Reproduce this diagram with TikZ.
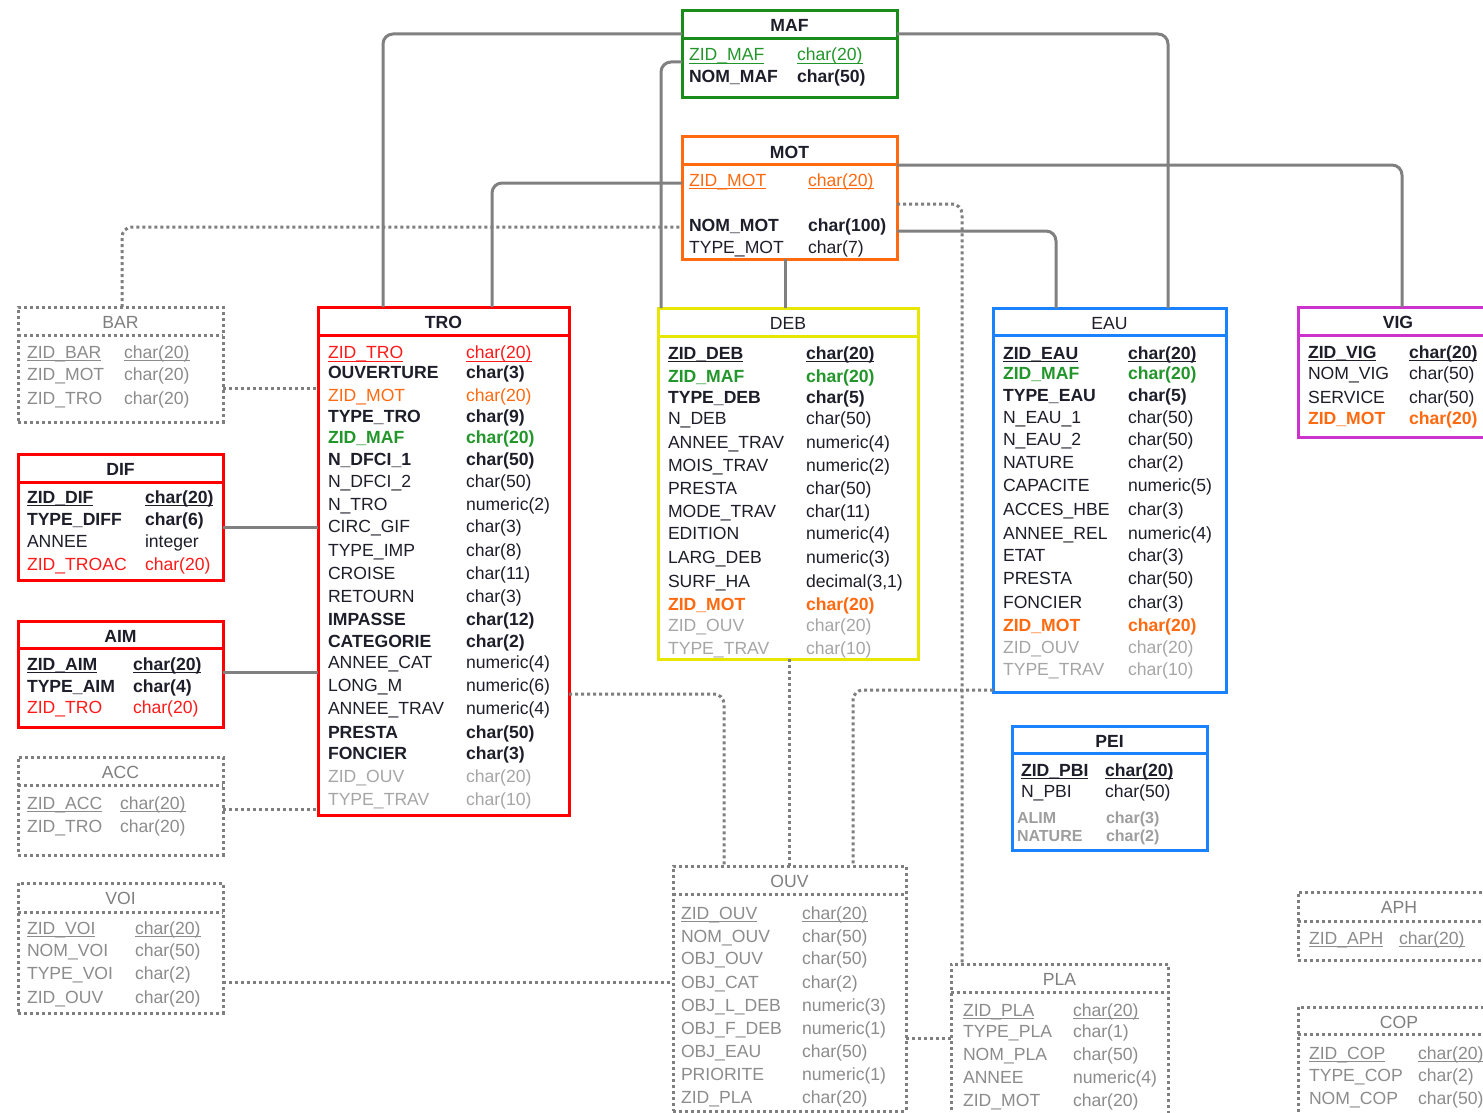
\documentclass[tikz,border=0pt]{standalone}
\usepackage{fontspec}
\setmainfont{Liberation Sans}
\usetikzlibrary{calc,fit}
\definecolor{lk}{HTML}{808080}
\definecolor{dk}{HTML}{7F7F7F}
\definecolor{tx}{HTML}{1E1E2A}
\definecolor{gr}{HTML}{A6A6A6}
\definecolor{dg}{HTML}{8C8C8C}
\definecolor{cG}{HTML}{1A8C1A}
\definecolor{cGt}{HTML}{22962A}
\definecolor{cO}{HTML}{FF6A10}
\definecolor{cR}{HTML}{FF0000}
\definecolor{cRt}{HTML}{FF1A1A}
\definecolor{cY}{HTML}{E6E600}
\definecolor{cB}{HTML}{1A82FF}
\definecolor{cM}{HTML}{CC33CC}
\newcommand\fs{\fontsize{8.8}{10}\selectfont}
\newcommand\ul[1]{\setbox0\hbox{#1}\rlap{\rule[-1.5pt]{\wd0}{0.6pt}}\box0}
\newcommand\tb[9]{%
  \node[#7, fit={(#2,#3) (#4,#5)}] (#1) {};
  \path[#7] (#2,#6) -- (#4,#6);
  \node[#8] (#1h) at ($(#1.north)+(0,21)$) {#9};}
\newcommand\rw[7]{%
  \node[fld,#5] (#1n) at (#2,#4+6) {#6};
  \node[fld,#5] (#1t) at (#3,#4+6) {#7};}
\tikzset{
  fld/.style={anchor=base west, inner sep=0pt, outer sep=0pt, font=\fs},
  hb/.style={anchor=base, inner sep=0pt, text=tx, font=\fs\bfseries},
  hr/.style={anchor=base, inner sep=0pt, text=tx, font=\fs},
  hd/.style={anchor=base, inner sep=0pt, text=dk, font=\fs},
  k/.style={text=tx},
  kb/.style={text=tx, font=\fs\bfseries},
  gy/.style={text=gr},
  dg/.style={text=dg},
  pg/.style={text=gr!95!black, font=\fontsize{8}{9}\selectfont\bfseries},
  R/.style={text=cRt},
  O/.style={text=cO},
  Ob/.style={text=cO, font=\fs\bfseries},
  Gn/.style={text=cGt},
  Gnb/.style={text=cGt, font=\fs\bfseries},
  tbl/.style={draw=#1, line width=1.5pt, inner sep=0pt, outer sep=0pt, fill=white},
  dtbl/.style={draw=dk, line width=1.5pt, dash pattern=on 1.5pt off 1.5pt, inner sep=0pt, outer sep=0pt, fill=white},
  link/.style={draw=lk, line width=1.5pt, rounded corners=5pt},
  dlink/.style={draw=dk, line width=1.5pt, dash pattern=on 1.5pt off 1.5pt, rounded corners=5pt},
}
\begin{document}
\begin{tikzpicture}[x=0.5pt,y=-0.5pt]
\useasboundingbox (0,0) rectangle (1483,1113);
\clip (0,0) rectangle (1483,1113);
\fill[white] (0,0) rectangle (1483,1113);

% tables
\tb{MAF}{682}{11}{897}{98}{39}{tbl=cG}{hb}{MAF}
\tb{MOT}{682}{137}{897}{259}{164}{tbl=cO}{hb}{MOT}
\tb{BAR}{18}{307}{223}{422}{335}{dtbl}{hd}{BAR}
\tb{DIF}{18}{454}{223}{580}{482}{tbl=cR}{hb}{DIF}
\tb{AIM}{18}{621}{223}{727}{648}{tbl=cR}{hb}{AIM}
\tb{ACC}{18}{757}{223}{855}{785}{dtbl}{hd}{ACC}
\tb{VOI}{18}{883}{223}{1013}{912}{dtbl}{hd}{VOI}
\tb{TRO}{318}{307}{569}{815}{335}{tbl=cR}{hb}{TRO}
\tb{DEB}{658}{308}{918}{659}{336}{tbl=cY}{hr}{DEB}
\tb{EAU}{993}{308}{1226}{692}{335}{tbl=cB}{hr}{EAU}
\tb{VIG}{1298}{307}{1498}{437}{335}{tbl=cM}{hb}{VIG}
\tb{PEI}{1012}{726}{1207}{850}{753}{tbl=cB}{hb}{PEI}
\tb{OUV}{673}{866}{906}{1111}{894}{dtbl}{hd}{OUV}
\tb{PLA}{951}{964}{1168}{1125}{992}{dtbl}{hd}{PLA}
\tb{APH}{1298}{892}{1500}{960}{921}{dtbl}{hd}{APH}
\tb{COP}{1298}{1007}{1500}{1125}{1034}{dtbl}{hd}{COP}

% solid connectors
\draw[link] ($(TRO.north west)+(65,0)$) |- ($(MAF.north west)+(0,23)$);
\draw[link] ($(MAF.north east)+(0,23)$) -| ($(EAU.north west)+(175,0)$);
\draw[link] ($(MAF.north west)+(0,51)$) -| ($(DEB.north west)+(3,0)$);
\draw[link] ($(MOT.north west)+(0,46)$) -| ($(TRO.north west)+(174,0)$);
\draw[link] ($(MOT.north east)+(0,28)$) -| ($(VIG.north west)+(104,0)$);
\draw[link] ($(MOT.north east)+(0,94)$) -| ($(EAU.north west)+(63,0)$);
\draw[link] ($(MOT.south west)+(103,0)$) -- ($(DEB.north west)+(127,0)$);
\draw[link] ($(DIF.north east)+(0,73)$) -- ($(TRO.north west)+(0,220)$);
\draw[link] ($(AIM.north east)+(0,51)$) -- ($(TRO.north west)+(0,365)$);

% dotted connectors
\draw[dlink] ($(BAR.north west)+(104,0)$) |- ($(MOT.north west)+(0,90)$);
\draw[dlink] ($(BAR.north east)+(0,81)$) -- ($(TRO.north west)+(0,81)$);
\draw[dlink] ($(ACC.north east)+(0,52)$) -- ($(TRO.north west)+(0,502)$);
\draw[dlink] ($(VOI.north east)+(0,99)$) -- ($(OUV.north west)+(0,116)$);
\draw[dlink] ($(TRO.north east)+(0,387)$) -| ($(OUV.north west)+(51,0)$);
\draw[dlink] ($(DEB.south west)+(131,0)$) -- ($(OUV.north west)+(116,0)$);
\draw[dlink] ($(EAU.north west)+(0,382)$) -| ($(OUV.north west)+(180,0)$);
\draw[dlink] ($(MOT.north east)+(0,67)$) -| ($(PLA.north west)+(11,0)$);
\draw[dlink] ($(OUV.north east)+(0,172)$) -- ($(PLA.north west)+(0,74)$);

% MAF
\rw{mafa}{689}{797}{55}{Gn}{\ul{ZID\_MAF}}{\ul{char(20)}}
\rw{mafb}{689}{797}{77}{kb}{NOM\_MAF}{char(50)}
% MOT
\rw{mota}{689}{808}{180}{O}{\ul{ZID\_MOT}}{\ul{char(20)}}
\rw{motb}{689}{808}{225}{kb}{NOM\_MOT}{char(100)}
\rw{motc}{689}{808}{247}{k}{TYPE\_MOT}{char(7)}
% BAR
\rw{bara}{27}{124}{352}{dg}{\ul{ZID\_BAR}}{\ul{char(20)}}
\rw{barb}{27}{124}{374}{dg}{ZID\_MOT}{char(20)}
\rw{barc}{27}{124}{398}{dg}{ZID\_TRO}{char(20)}
% DIF
\rw{difa}{27}{145}{497}{kb}{\ul{ZID\_DIF}}{\ul{char(20)}}
\rw{difb}{27}{145}{519}{kb}{TYPE\_DIFF}{char(6)}
\rw{difc}{27}{145}{541}{k}{ANNEE}{integer}
\rw{difd}{27}{145}{564}{R}{ZID\_TROAC}{char(20)}
% AIM
\rw{aima}{27}{133}{664}{kb}{\ul{ZID\_AIM}}{\ul{char(20)}}
\rw{aimb}{27}{133}{686}{kb}{TYPE\_AIM}{char(4)}
\rw{aimc}{27}{133}{707}{R}{ZID\_TRO}{char(20)}
% ACC
\rw{acca}{27}{120}{803}{dg}{\ul{ZID\_ACC}}{\ul{char(20)}}
\rw{accb}{27}{120}{826}{dg}{ZID\_TRO}{char(20)}
% VOI
\rw{voia}{27}{135}{928}{dg}{\ul{ZID\_VOI}}{\ul{char(20)}}
\rw{voib}{27}{135}{950}{dg}{NOM\_VOI}{char(50)}
\rw{voic}{27}{135}{973}{dg}{TYPE\_VOI}{char(2)}
\rw{void}{27}{135}{997}{dg}{ZID\_OUV}{char(20)}
% TRO
\rw{troa}{328}{466}{352.7}{R}{\ul{ZID\_TRO}}{\ul{char(20)}}
\rw{trob}{328}{466}{372.7}{kb}{OUVERTURE}{char(3)}
\rw{troc}{328}{466}{395}{O}{ZID\_MOT}{char(20)}
\rw{trod}{328}{466}{416.7}{kb}{TYPE\_TRO}{char(9)}
\rw{troe}{328}{466}{437}{Gnb}{ZID\_MAF}{char(20)}
\rw{trof}{328}{466}{459}{kb}{N\_DFCI\_1}{char(50)}
\rw{trog}{328}{466}{481}{k}{N\_DFCI\_2}{char(50)}
\rw{troh}{328}{466}{504}{k}{N\_TRO}{numeric(2)}
\rw{troi}{328}{466}{526.7}{k}{CIRC\_GIF}{char(3)}
\rw{troj}{328}{466}{550}{k}{TYPE\_IMP}{char(8)}
\rw{trok}{328}{466}{573}{k}{CROISE}{char(11)}
\rw{trol}{328}{466}{596}{k}{RETOURN}{char(3)}
\rw{trom}{328}{466}{619}{kb}{IMPASSE}{char(12)}
\rw{tron}{328}{466}{641}{kb}{CATEGORIE}{char(2)}
\rw{troo}{328}{466}{662.7}{k}{ANNEE\_CAT}{numeric(4)}
\rw{trop}{328}{466}{685.7}{k}{LONG\_M}{numeric(6)}
\rw{troq}{328}{466}{708}{k}{ANNEE\_TRAV}{numeric(4)}
\rw{tror}{328}{466}{732}{kb}{PRESTA}{char(50)}
\rw{tros}{328}{466}{753}{kb}{FONCIER}{char(3)}
\rw{trot}{328}{466}{776.7}{gy}{ZID\_OUV}{char(20)}
\rw{trou}{328}{466}{799}{gy}{TYPE\_TRAV}{char(10)}
% DEB
\rw{deba}{668}{806}{353}{kb}{\ul{ZID\_DEB}}{\ul{char(20)}}
\rw{debb}{668}{806}{376}{Gnb}{ZID\_MAF}{char(20)}
\rw{debc}{668}{806}{397}{kb}{TYPE\_DEB}{char(5)}
\rw{debd}{668}{806}{418}{k}{N\_DEB}{char(50)}
\rw{debe}{668}{806}{442}{k}{ANNEE\_TRAV}{numeric(4)}
\rw{debf}{668}{806}{465}{k}{MOIS\_TRAV}{numeric(2)}
\rw{debg}{668}{806}{488}{k}{PRESTA}{char(50)}
\rw{debh}{668}{806}{511}{k}{MODE\_TRAV}{char(11)}
\rw{debi}{668}{806}{533}{k}{EDITION}{numeric(4)}
\rw{debj}{668}{806}{557}{k}{LARG\_DEB}{numeric(3)}
\rw{debk}{668}{806}{581}{k}{SURF\_HA}{decimal(3,1)}
\rw{debl}{668}{806}{604}{Ob}{ZID\_MOT}{char(20)}
\rw{debm}{668}{806}{625}{gy}{ZID\_OUV}{char(20)}
\rw{debn}{668}{806}{648}{gy}{TYPE\_TRAV}{char(10)}
% EAU
\rw{eaua}{1003}{1128}{353}{kb}{\ul{ZID\_EAU}}{\ul{char(20)}}
\rw{eaub}{1003}{1128}{373}{Gnb}{ZID\_MAF}{char(20)}
\rw{eauc}{1003}{1128}{395}{kb}{TYPE\_EAU}{char(5)}
\rw{eaud}{1003}{1128}{417}{k}{N\_EAU\_1}{char(50)}
\rw{eaue}{1003}{1128}{439}{k}{N\_EAU\_2}{char(50)}
\rw{eauf}{1003}{1128}{462}{k}{NATURE}{char(2)}
\rw{eaug}{1003}{1128}{485}{k}{CAPACITE}{numeric(5)}
\rw{eauh}{1003}{1128}{509}{k}{ACCES\_HBE}{char(3)}
\rw{eaui}{1003}{1128}{533}{k}{ANNEE\_REL}{numeric(4)}
\rw{eauj}{1003}{1128}{555}{k}{ETAT}{char(3)}
\rw{eauk}{1003}{1128}{578}{k}{PRESTA}{char(50)}
\rw{eaul}{1003}{1128}{602}{k}{FONCIER}{char(3)}
\rw{eaum}{1003}{1128}{625}{Ob}{ZID\_MOT}{char(20)}
\rw{eaun}{1003}{1128}{647}{gy}{ZID\_OUV}{char(20)}
\rw{eauo}{1003}{1128}{669}{gy}{TYPE\_TRAV}{char(10)}
% VIG
\rw{viga}{1308}{1409}{352}{kb}{\ul{ZID\_VIG}}{\ul{char(20)}}
\rw{vigb}{1308}{1409}{373}{k}{NOM\_VIG}{char(50)}
\rw{vigc}{1308}{1409}{397}{k}{SERVICE}{char(50)}
\rw{vigd}{1308}{1409}{418}{Ob}{ZID\_MOT}{char(20)}
% PEI
\rw{peia}{1021}{1105}{770}{kb}{\ul{ZID\_PBI}}{\ul{char(20)}}
\rw{peib}{1021}{1105}{791}{k}{N\_PBI}{char(50)}
\rw{peic}{1017}{1106}{817}{pg}{ALIM}{char(3)}
\rw{peid}{1017}{1106}{835}{pg}{NATURE}{char(2)}
% OUV
\rw{ouva}{681}{802}{913}{dg}{\ul{ZID\_OUV}}{\ul{char(20)}}
\rw{ouvb}{681}{802}{936}{dg}{NOM\_OUV}{char(50)}
\rw{ouvc}{681}{802}{958}{dg}{OBJ\_OUV}{char(50)}
\rw{ouvd}{681}{802}{982}{dg}{OBJ\_CAT}{char(2)}
\rw{ouve}{681}{802}{1005}{dg}{OBJ\_L\_DEB}{numeric(3)}
\rw{ouvf}{681}{802}{1028}{dg}{OBJ\_F\_DEB}{numeric(1)}
\rw{ouvg}{681}{802}{1051}{dg}{OBJ\_EAU}{char(50)}
\rw{ouvh}{681}{802}{1074}{dg}{PRIORITE}{numeric(1)}
\rw{ouvi}{681}{802}{1097}{dg}{ZID\_PLA}{char(20)}
% PLA
\rw{plaa}{963}{1073}{1010}{dg}{\ul{ZID\_PLA}}{\ul{char(20)}}
\rw{plab}{963}{1073}{1031}{dg}{TYPE\_PLA}{char(1)}
\rw{plac}{963}{1073}{1054}{dg}{NOM\_PLA}{char(50)}
\rw{plad}{963}{1073}{1077}{dg}{ANNEE}{numeric(4)}
\rw{plae}{963}{1073}{1100}{dg}{ZID\_MOT}{char(20)}
% APH
\rw{apha}{1309}{1399}{938}{dg}{\ul{ZID\_APH}}{\ul{char(20)}}
% COP
\rw{copa}{1309}{1418}{1053}{dg}{\ul{ZID\_COP}}{\ul{char(20)}}
\rw{copb}{1309}{1418}{1075}{dg}{TYPE\_COP}{char(2)}
\rw{copc}{1309}{1418}{1098}{dg}{NOM\_COP}{char(50)}
\end{tikzpicture}
\end{document}
